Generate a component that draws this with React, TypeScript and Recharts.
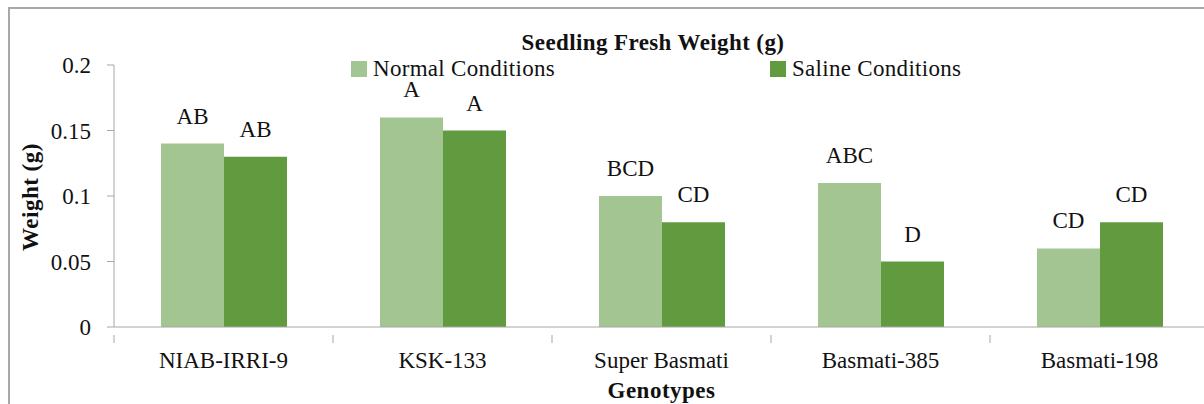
import { Bar, BarChart, LabelList, XAxis, YAxis } from "recharts";

const categories = ["NIAB-IRRI-9", "KSK-133", "Super Basmati", "Basmati-385", "Basmati-198"];
const normalValues = [0.14, 0.16, 0.1, 0.11, 0.06];
const salineValues = [0.13, 0.15, 0.08, 0.05, 0.08];
const normalLetters = ["AB", "A", "BCD", "ABC", "CD"];
const salineLetters = ["AB", "A", "CD", "D", "CD"];
const yTicks = [0, 0.05, 0.1, 0.15, 0.2];

const seriesNames = ["Normal Conditions", "Saline Conditions"];
const seriesColors = ["#a3c592", "#629a3f"];

const data = categories.map((name, i) => ({
  name,
  normal: normalValues[i],
  saline: salineValues[i],
  normalLetter: normalLetters[i],
  salineLetter: salineLetters[i],
}));

const FONT = "'Liberation Serif', 'Times New Roman', Times, 'Noto Serif', 'DejaVu Serif', Tinos, serif";
const AXIS = "#a6a6a6";
const FS = 23;
const CHART_W = 1230;
const CHART_H = 404;
const MARGIN = { top: 65, right: 21, bottom: 0, left: 0 };
const Y_W = 114;
const X_H = 77;
const band = (CHART_W - MARGIN.left - MARGIN.right - Y_W) / categories.length;

function CategoryTick(props: any) {
  const { x, y, payload, index } = props;
  const left = x - band / 2;
  return (
    <g>
      <line x1={left} y1={y} x2={left} y2={y + 8} stroke={AXIS} />
      {index === categories.length - 1 && (
        <line x1={left + band} y1={y} x2={left + band} y2={y + 8} stroke={AXIS} />
      )}
      <text x={x} y={y + 17} dy="0.71em" textAnchor="middle" fontSize={FS} style={{ fontFamily: FONT }} fill="#111">
        {payload.value}
      </text>
    </g>
  );
}

export default function App() {
  return (
    <div style={{ position: "fixed", left: 0, top: 0, width: 1204, height: 404, overflow: "hidden", background: "#fff", fontFamily: FONT }}>
      <div
        style={{
          position: "absolute",
          left: 8,
          top: 7,
          width: 1240,
          height: 440,
          border: "2px solid #a8a8a8",
          boxSizing: "border-box",
        }}
      />
      <div
        style={{
          position: "absolute",
          left: 453,
          width: 400,
          top: 32,
          textAlign: "center",
          fontWeight: "bold",
          fontSize: FS,
          letterSpacing: 0.4,
          lineHeight: "22px",
          color: "#111",
        }}
      >
        Seedling Fresh Weight (g)
      </div>
      {seriesNames.map((s, i) => (
        <div
          key={s}
          style={{
            position: "absolute",
            left: i === 0 ? 351 : 770,
            top: 60.5,
            display: "flex",
            alignItems: "center",
            fontSize: FS,
            letterSpacing: 0.3,
            lineHeight: "16px",
            color: "#111",
          }}
        >
          <span style={{ width: 16, height: 16, background: seriesColors[i], marginRight: 6, display: "inline-block" }} />
          {s}
        </div>
      ))}
      <div style={{ position: "absolute", left: 0, top: 0 }}>
        <BarChart width={CHART_W} height={CHART_H} data={data} margin={MARGIN} barGap={0} barSize={63} style={{ fontFamily: FONT }}>
          <XAxis
            dataKey="name"
            height={X_H}
            stroke={AXIS}
            tickLine={false}
            tick={<CategoryTick />}
            interval={0}
            label={{
              value: "Genotypes",
              position: "insideBottom",
              offset: 6,
              fontWeight: "bold",
              fontSize: FS,
              fill: "#111",
              style: { fontFamily: FONT, letterSpacing: 0.5 },
            }}
          />
          <YAxis
            width={Y_W}
            domain={[0, 0.2]}
            ticks={yTicks}
            stroke={AXIS}
            tickSize={7}
            tickMargin={16}
            tick={{ fontSize: FS, fill: "#111", style: { fontFamily: FONT } }}
            label={() => (
              <text
                x={30}
                y={197}
                transform="rotate(-90 30 197)"
                textAnchor="middle"
                dominantBaseline="central"
                fontWeight="bold"
                fontSize={FS}
                fill="#111"
                style={{ fontFamily: FONT, letterSpacing: 0.5 }}
              >
                Weight (g)
              </text>
            )}
          />
          <Bar dataKey="normal" fill={seriesColors[0]} isAnimationActive={false}>
            <LabelList dataKey="normalLetter" position="top" offset={20} fontSize={FS} fill="#111" style={{ fontFamily: FONT }} />
          </Bar>
          <Bar dataKey="saline" fill={seriesColors[1]} isAnimationActive={false}>
            <LabelList dataKey="salineLetter" position="top" offset={20} fontSize={FS} fill="#111" style={{ fontFamily: FONT }} />
          </Bar>
        </BarChart>
      </div>
    </div>
  );
}
